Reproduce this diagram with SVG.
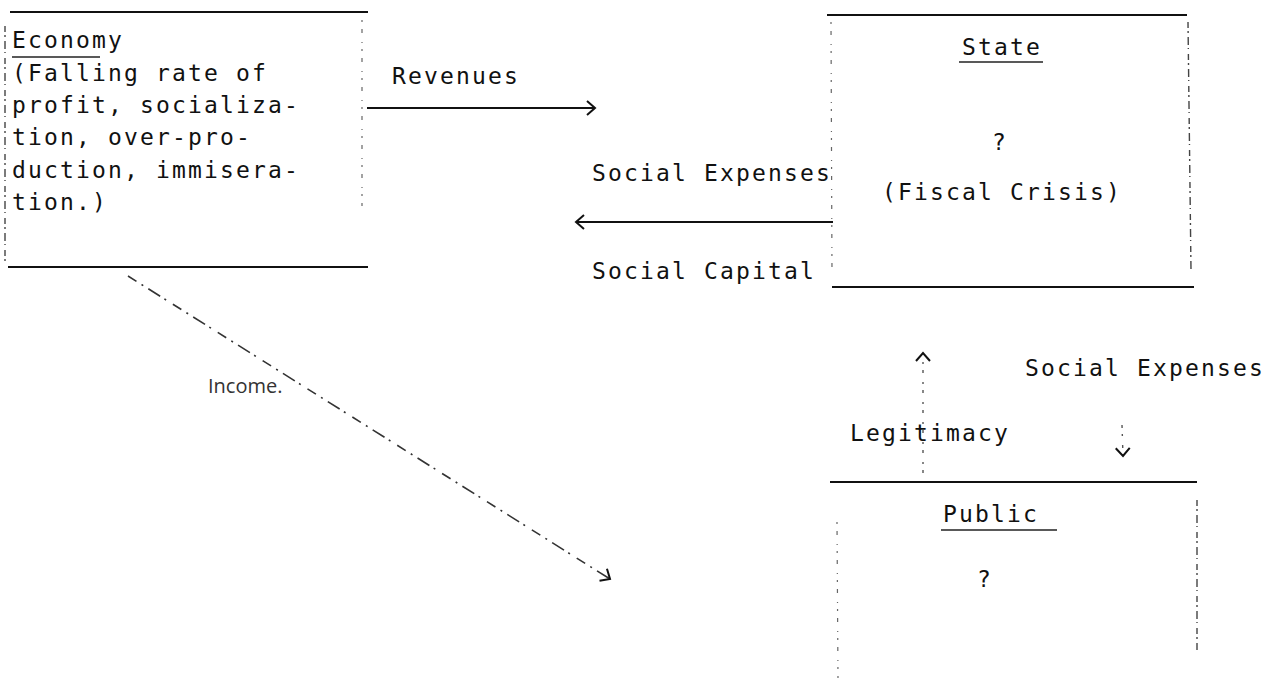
<svg xmlns="http://www.w3.org/2000/svg" width="1276" height="686" viewBox="0 0 1276 686">
<style>
.tw{font-family:"DejaVu Sans Mono","Liberation Mono",monospace;font-size:23px;letter-spacing:2.15px;fill:#111}
.gl{font-family:"Open Sans","DejaVu Sans",sans-serif;font-size:20px;fill:#333}
.hl{stroke:#111;stroke-width:2.2;fill:none}
.ul{stroke:#222;stroke-width:1.6;fill:none}
.vs{stroke:#444;stroke-width:1.4;fill:none;stroke-dasharray:6 3 2 4 8 3 1 5}
.vf{stroke:#666;stroke-width:1.2;fill:none;stroke-dasharray:2 7 4 9 1 6}
.ar{stroke:#111;stroke-width:2;fill:none}
.dd{stroke:#333;stroke-width:1.6;fill:none;stroke-dasharray:10 6 2 6 14 5 2 8}
.dt{stroke:#555;stroke-width:1.4;fill:none;stroke-dasharray:3 6 2 9}
</style>
<defs>
<marker id="ah" markerUnits="userSpaceOnUse" markerWidth="14" markerHeight="16" refX="11" refY="8" orient="auto">
<path d="M3,1 L11,8 L3,15" fill="none" stroke="#111" stroke-width="2"/>
</marker>
</defs>

<g id="economy">
<line class="hl" x1="10" y1="12" x2="368" y2="12"/>
<line class="hl" x1="8" y1="267" x2="368" y2="267"/>
<line class="vs" x1="5" y1="26" x2="5" y2="262"/>
<line class="vf" x1="362" y1="20" x2="362" y2="206"/>
<text class="tw" x="12" y="48">Economy</text>
<line class="ul" x1="12" y1="57" x2="100" y2="57"/>
<text class="tw" x="12" y="81">(Falling rate of</text>
<text class="tw" x="12" y="113">profit, socializa-</text>
<text class="tw" x="12" y="145">tion, over-pro-</text>
<text class="tw" x="12" y="178">duction, immisera-</text>
<text class="tw" x="12" y="210">tion.)</text>
</g>

<g id="state">
<line class="hl" x1="827" y1="15" x2="1187" y2="15"/>
<line class="hl" x1="832" y1="287" x2="1194" y2="287"/>
<line class="vf" x1="831" y1="22" x2="832" y2="275"/>
<line class="vs" x1="1188" y1="22" x2="1191" y2="270"/>
<text class="tw" x="1002" y="55" text-anchor="middle">State</text>
<line class="ul" x1="959" y1="62" x2="1043" y2="62"/>
<text class="tw" x="1000" y="150" text-anchor="middle">?</text>
<text class="tw" x="1002" y="200" text-anchor="middle">(Fiscal Crisis)</text>
</g>

<g id="public">
<line class="hl" x1="830" y1="482" x2="1197" y2="482"/>
<line class="vf" x1="837" y1="522" x2="838" y2="678"/>
<line class="vs" x1="1197" y1="500" x2="1197" y2="650"/>
<text class="tw" x="943" y="522">Public</text>
<line class="ul" x1="941" y1="530" x2="1057" y2="530"/>
<text class="tw" x="977" y="587">?</text>
</g>

<g id="connectors">
<line class="ar" x1="367" y1="108" x2="595" y2="108" marker-end="url(#ah)"/>
<text class="tw" x="392" y="84">Revenues</text>
<line class="ar" x1="833" y1="222" x2="576" y2="222" marker-end="url(#ah)"/>
<text class="tw" x="592" y="181">Social Expenses</text>
<text class="tw" x="592" y="279">Social Capital</text>
<line class="dd" x1="128" y1="276" x2="610" y2="579" marker-end="url(#ah)"/>
<text class="gl" x="208" y="393">Income.</text>
<line class="dt" x1="923" y1="473" x2="923" y2="353" marker-end="url(#ah)"/>
<text class="tw" x="850" y="441">Legitimacy</text>
<line class="dt" x1="1122" y1="425" x2="1123" y2="456" marker-end="url(#ah)"/>
<text class="tw" x="1025" y="376">Social Expenses</text>
</g>
</svg>
